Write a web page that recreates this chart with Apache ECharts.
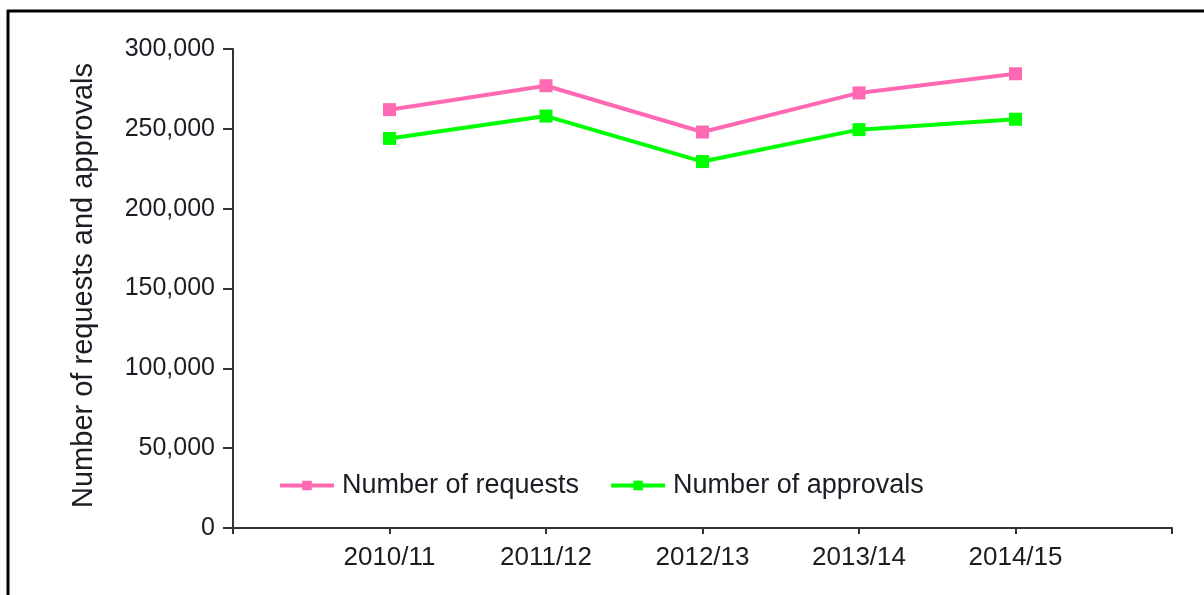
<!DOCTYPE html>
<html>
<head>
<meta charset="utf-8">
<script src="https://cdn.jsdelivr.net/npm/echarts@6/dist/echarts.min.js"></script>
<style>
  html, body { margin: 0; padding: 0; background: #fff; }
  #chart { width: 1204px; height: 595px; }
</style>
</head>
<body>
<div id="chart"></div>
<script>
// data
const years = ["2010/11", "2011/12", "2012/13", "2013/14", "2014/15"];
const requests = [262000, 277000, 248000, 272500, 284500];
const approvals = [244000, 258000, 229500, 249500, 256000];
const yTicks = [0, 50000, 100000, 150000, 200000, 250000, 300000];

const font = "'Liberation Sans', Arial, sans-serif";
const textColor = "#1c1c24";

// empty slot at each end so the years sit inside the axis
const xCats = [""].concat(years, [""]);
const pad = (arr) => [null].concat(arr, [null]);

const myChart = echarts.init(document.getElementById("chart"));

let option = {
  animation: false,
  backgroundColor: "#fff",
  textStyle: { fontFamily: font },
  grid: {
    left: 233,
    right: 32,
    top: 49,
    bottom: 67,
  },
  legend: {
    left: 278,
    top: 472,
    padding: 0,
    itemWidth: 54,
    itemHeight: 12,
    itemGap: 30,
    lineStyle: { width: 4 },
    textStyle: { fontSize: 27, color: textColor, fontFamily: font, padding: [0, 0, 0, 3] },
    data: ["Number of requests", "Number of approvals"],
  },
  xAxis: {
    type: "category",
    boundaryGap: false,
    data: xCats,
    axisLine: { lineStyle: { color: "#333", width: 2 } },
    axisTick: { show: true, length: 6, interval: 0, lineStyle: { color: "#333", width: 2 } },
    axisLabel: { interval: 0, fontSize: 26, color: textColor, margin: 17, fontFamily: font },
    splitLine: { show: false },
  },
  yAxis: {
    type: "value",
    min: yTicks[0],
    max: yTicks[yTicks.length - 1],
    interval: yTicks[1] - yTicks[0],
    name: "Number of requests and approvals",
    nameLocation: "middle",
    nameGap: 135,
    nameTextStyle: { fontSize: 29, color: textColor, fontFamily: font, padding: [0, 0, 0, 6] },
    axisLine: { show: true, lineStyle: { color: "#333", width: 2 } },
    axisTick: { show: true, length: 10, lineStyle: { color: "#333", width: 2 } },
    axisLabel: {
      fontSize: 25,
      color: textColor,
      margin: 18,
      fontFamily: font,
      formatter: (v) => v.toLocaleString("en-US"),
    },
    splitLine: { show: false },
  },
  graphic: [
    // frame around the picture (cut off on the right and bottom)
    { type: "line", shape: { x1: 7, y1: 11, x2: 1204, y2: 11 }, style: { stroke: "#000", lineWidth: 3 } },
    { type: "line", shape: { x1: 8, y1: 10, x2: 8, y2: 595 }, style: { stroke: "#000", lineWidth: 3 } },
  ],
  series: [
    {
      name: "Number of requests",
      type: "line",
      data: pad(requests),
      symbol: "rect",
      symbolSize: 13,
      itemStyle: { color: "#ff69b4" },
      lineStyle: { color: "#ff69b4", width: 4 },
    },
    {
      name: "Number of approvals",
      type: "line",
      data: pad(approvals),
      symbol: "rect",
      symbolSize: 13,
      itemStyle: { color: "#00ff00" },
      lineStyle: { color: "#00ff00", width: 4 },
    },
  ],
};

myChart.setOption(option);
</script>
</body>
</html>
